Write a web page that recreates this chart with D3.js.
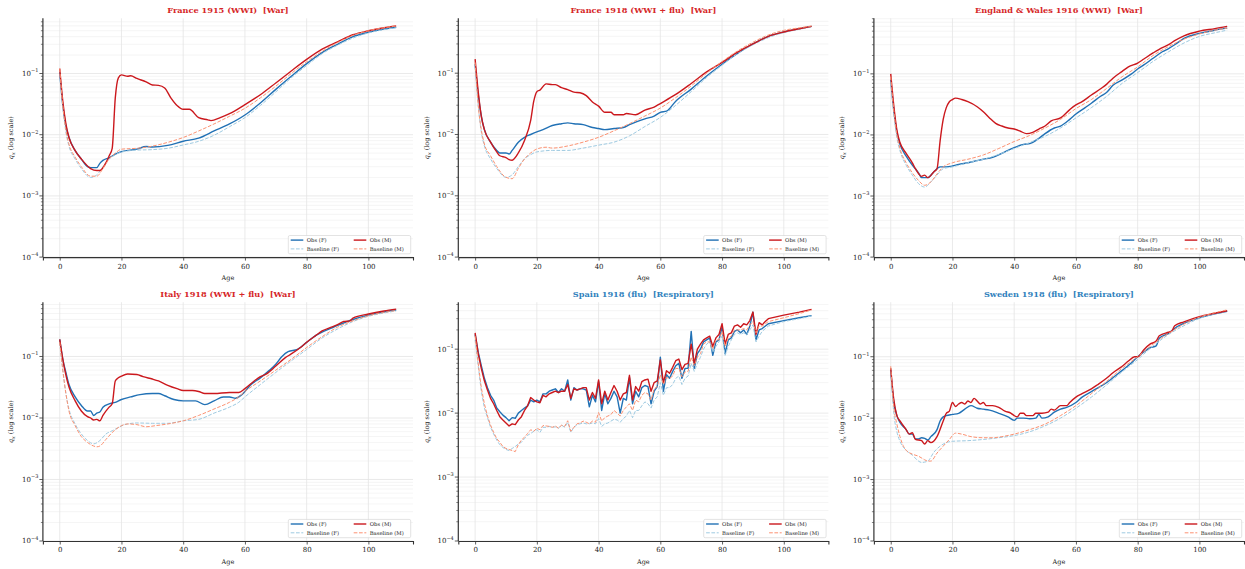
<!DOCTYPE html>
<html><head><meta charset="utf-8">
<script src="https://cdn.jsdelivr.net/npm/d3@7"></script>
<style>body{margin:0;background:#fff}svg{display:block}.ttl{white-space:pre}</style>
</head><body>
<script>
// ---------- DATA ----------
const titles = ["France 1915 (WWI)  [War]","France 1918 (WWI + flu)  [War]","England & Wales 1916 (WWI)  [War]","Italy 1918 (WWI + flu)  [War]","Spain 1918 (flu)  [Respiratory]","Sweden 1918 (flu)  [Respiratory]"];
const titleKinds = ["War","War","War","War","Respiratory","Respiratory"];
const legendLabels = ["Obs (F)","Baseline (F)","Obs (M)","Baseline (M)"];
const xTicks = [0,20,40,60,80,100];

// France 1915
const fr15ObsF = [[0,0.105],[1,0.03],[2,0.014],[3,0.009],[5,0.0055],[7,0.004],[9,0.003],[10,0.0029],[12,0.0029],[13,0.0034],[14,0.0038],[16,0.0042],[18,0.0048],[20,0.0053],[25,0.0058],[28,0.0064],[30,0.0063],[35,0.0067],[40,0.0078],[45,0.0088],[50,0.0115],[55,0.015],[60,0.021],[65,0.033],[70,0.055],[75,0.09],[80,0.145],[85,0.22],[90,0.3],[95,0.4],[100,0.47],[105,0.53],[109,0.57]];
const fr15BaseF = [[0,0.1],[1,0.028],[2,0.011],[3,0.0065],[5,0.004],[7,0.0028],[10,0.002],[12,0.0022],[14,0.003],[16,0.004],[18,0.0047],[20,0.0052],[25,0.0056],[30,0.0057],[35,0.006],[40,0.0068],[45,0.0078],[50,0.0098],[55,0.0135],[60,0.019],[65,0.03],[70,0.05],[75,0.085],[80,0.135],[85,0.21],[90,0.29],[95,0.38],[100,0.46],[105,0.52],[109,0.56]];
const fr15ObsM = [[0,0.12],[1,0.035],[2,0.015],[3,0.009],[5,0.0055],[7,0.004],[10,0.0028],[12,0.0026],[13,0.0026],[15,0.0035],[16,0.0045],[17,0.006],[18,0.04],[19,0.085],[20,0.095],[22,0.09],[23,0.092],[25,0.083],[28,0.073],[30,0.065],[32,0.064],[34,0.058],[36,0.04],[38,0.03],[40,0.026],[42,0.026],[45,0.019],[48,0.0175],[49,0.017],[52,0.019],[55,0.022],[60,0.031],[65,0.045],[70,0.07],[75,0.11],[80,0.17],[85,0.25],[90,0.33],[95,0.43],[100,0.5],[105,0.56],[109,0.6]];
const fr15BaseM = [[0,0.12],[1,0.03],[2,0.012],[3,0.007],[5,0.0043],[7,0.003],[10,0.0021],[12,0.0021],[14,0.0028],[16,0.004],[18,0.005],[20,0.0058],[25,0.006],[30,0.0065],[35,0.0075],[40,0.009],[45,0.0115],[50,0.015],[55,0.02],[60,0.027],[65,0.04],[70,0.062],[75,0.1],[80,0.155],[85,0.23],[90,0.32],[95,0.42],[100,0.5],[105,0.56],[109,0.6]];

// France 1918
const fr18ObsF = [[0,0.14],[1,0.045],[2,0.02],[3,0.012],[5,0.0075],[7,0.0055],[8,0.005],[10,0.005],[11,0.0048],[12,0.0055],[14,0.0075],[16,0.009],[18,0.01],[20,0.011],[22,0.012],[25,0.014],[28,0.015],[30,0.0155],[32,0.015],[35,0.0145],[38,0.013],[40,0.0125],[42,0.012],[45,0.0125],[48,0.013],[50,0.0145],[55,0.018],[58,0.02],[60,0.023],[62,0.024],[65,0.035],[70,0.055],[75,0.09],[80,0.14],[85,0.21],[90,0.3],[95,0.4],[100,0.47],[105,0.53],[109,0.58]];
const fr18BaseF = [[0,0.13],[1,0.03],[2,0.011],[3,0.0065],[5,0.004],[7,0.0028],[10,0.002],[12,0.0022],[14,0.003],[16,0.004],[18,0.0047],[20,0.0052],[25,0.0055],[30,0.0055],[35,0.006],[40,0.0067],[45,0.0075],[50,0.0095],[55,0.0135],[60,0.019],[65,0.03],[70,0.05],[75,0.085],[80,0.135],[85,0.21],[90,0.29],[95,0.38],[100,0.46],[105,0.52],[109,0.57]];
const fr18ObsM = [[0,0.17],[1,0.05],[2,0.02],[3,0.012],[5,0.0075],[7,0.0052],[8,0.0045],[10,0.0042],[11,0.0039],[12,0.0038],[14,0.005],[16,0.008],[18,0.017],[19,0.035],[20,0.05],[21,0.053],[23,0.067],[25,0.065],[26,0.065],[28,0.058],[30,0.054],[32,0.049],[34,0.048],[36,0.043],[38,0.034],[40,0.029],[42,0.023],[44,0.023],[45,0.021],[48,0.021],[49,0.022],[52,0.021],[55,0.025],[58,0.028],[60,0.032],[65,0.045],[70,0.068],[75,0.105],[80,0.15],[85,0.22],[90,0.3],[95,0.4],[100,0.47],[105,0.53],[109,0.58]];
const fr18BaseM = [[0,0.15],[1,0.03],[2,0.012],[3,0.007],[5,0.0045],[7,0.003],[10,0.002],[12,0.0019],[14,0.0028],[16,0.004],[18,0.005],[20,0.0058],[23,0.0062],[25,0.006],[30,0.0065],[35,0.0075],[40,0.009],[45,0.0115],[50,0.015],[55,0.02],[60,0.027],[65,0.04],[70,0.062],[75,0.1],[80,0.155],[85,0.23],[90,0.32],[95,0.42],[100,0.5],[105,0.55],[109,0.59]];

// England & Wales 1916
const ew16ObsF = [[0,0.08],[1,0.025],[2,0.011],[3,0.007],[5,0.0045],[7,0.0032],[9,0.0024],[10,0.002],[12,0.002],[14,0.0025],[16,0.003],[18,0.003],[20,0.0031],[22,0.0033],[25,0.0035],[28,0.0038],[30,0.004],[33,0.0043],[36,0.005],[40,0.0062],[43,0.007],[45,0.0072],[48,0.0088],[50,0.0105],[53,0.013],[55,0.014],[58,0.018],[60,0.022],[63,0.028],[65,0.033],[68,0.043],[70,0.05],[72,0.065],[75,0.08],[78,0.1],[80,0.12],[82,0.14],[85,0.18],[88,0.23],[90,0.26],[92,0.3],[95,0.38],[100,0.46],[105,0.52],[109,0.56]];
const ew16BaseF = [[0,0.075],[1,0.022],[2,0.009],[3,0.0055],[5,0.0032],[7,0.0022],[9,0.0016],[11,0.0014],[13,0.0017],[15,0.0022],[17,0.0028],[20,0.003],[25,0.0035],[30,0.004],[35,0.0048],[40,0.006],[45,0.0075],[50,0.0095],[55,0.013],[60,0.019],[65,0.028],[70,0.043],[75,0.07],[80,0.105],[85,0.16],[90,0.23],[95,0.32],[100,0.41],[105,0.47],[109,0.52]];
const ew16ObsM = [[0,0.1],[1,0.03],[2,0.012],[3,0.0075],[5,0.005],[7,0.0035],[8,0.0028],[10,0.0021],[11,0.0022],[12,0.002],[14,0.0025],[15,0.0028],[16,0.008],[17,0.018],[18,0.028],[19,0.035],[20,0.038],[21,0.04],[23,0.038],[25,0.035],[28,0.029],[30,0.024],[32,0.019],[34,0.0155],[36,0.014],[38,0.013],[40,0.0125],[42,0.0115],[44,0.0105],[46,0.011],[48,0.0125],[50,0.014],[52,0.017],[55,0.019],[58,0.026],[60,0.031],[62,0.035],[65,0.045],[68,0.057],[70,0.068],[72,0.085],[75,0.11],[77,0.13],[80,0.15],[82,0.175],[85,0.22],[88,0.27],[90,0.3],[92,0.35],[95,0.42],[100,0.5],[105,0.55],[109,0.6]];
const ew16BaseM = [[0,0.09],[1,0.025],[2,0.01],[3,0.006],[5,0.0035],[7,0.0024],[9,0.0018],[11,0.0015],[13,0.0017],[15,0.0023],[17,0.003],[20,0.0035],[25,0.004],[30,0.0047],[35,0.006],[40,0.0078],[45,0.0098],[50,0.013],[55,0.018],[60,0.027],[65,0.038],[70,0.058],[75,0.09],[80,0.13],[85,0.2],[90,0.28],[95,0.37],[100,0.45],[105,0.52],[109,0.56]];

// Italy 1918
const it18ObsF = [[0,0.19],[1,0.09],[2,0.055],[3,0.035],[5,0.022],[7,0.016],[9,0.013],[10,0.013],[11,0.011],[12,0.012],[13,0.0125],[14,0.015],[16,0.017],[18,0.018],[20,0.02],[23,0.022],[26,0.024],[30,0.025],[32,0.025],[34,0.023],[37,0.02],[40,0.019],[44,0.019],[47,0.0165],[50,0.019],[53,0.022],[55,0.022],[57,0.021],[59,0.024],[62,0.035],[65,0.045],[68,0.06],[70,0.075],[72,0.1],[74,0.12],[77,0.13],[80,0.17],[83,0.22],[85,0.25],[88,0.29],[90,0.32],[95,0.4],[100,0.47],[105,0.53],[109,0.57]];
const it18BaseF = [[0,0.17],[1,0.06],[2,0.025],[3,0.014],[5,0.008],[7,0.0055],[9,0.0043],[11,0.0038],[13,0.0043],[15,0.0055],[17,0.0062],[19,0.007],[21,0.0078],[25,0.0083],[30,0.0082],[35,0.0082],[40,0.009],[45,0.0095],[50,0.012],[55,0.015],[58,0.018],[60,0.022],[65,0.035],[70,0.055],[75,0.085],[80,0.13],[85,0.2],[90,0.28],[95,0.37],[100,0.45],[105,0.51],[109,0.55]];
const it18ObsM = [[0,0.19],[1,0.09],[2,0.05],[3,0.032],[5,0.019],[7,0.013],[9,0.0105],[10,0.01],[11,0.0093],[12,0.0095],[13,0.009],[14,0.011],[16,0.015],[17,0.017],[18,0.04],[19,0.045],[20,0.048],[22,0.052],[25,0.051],[27,0.047],[30,0.043],[32,0.04],[35,0.034],[38,0.03],[40,0.028],[43,0.028],[45,0.027],[47,0.025],[50,0.025],[55,0.026],[58,0.026],[60,0.03],[63,0.04],[65,0.047],[67,0.052],[70,0.07],[73,0.095],[75,0.11],[78,0.14],[80,0.17],[83,0.22],[85,0.26],[88,0.3],[90,0.33],[92,0.37],[94,0.38],[95,0.42],[100,0.49],[105,0.55],[109,0.59]];
const it18BaseM = [[0,0.17],[1,0.06],[2,0.025],[3,0.013],[5,0.0075],[7,0.005],[9,0.004],[11,0.0035],[12,0.0034],[13,0.0035],[15,0.0045],[17,0.0058],[20,0.0075],[22,0.008],[25,0.0078],[28,0.0072],[31,0.0075],[35,0.008],[40,0.009],[45,0.011],[50,0.014],[55,0.018],[58,0.022],[60,0.027],[65,0.04],[70,0.06],[75,0.09],[80,0.14],[85,0.21],[90,0.3],[95,0.38],[100,0.46],[105,0.52],[109,0.56]];

// Spain 1918
const es18ObsF = [[0,0.17],[1,0.09],[2,0.055],[3,0.035],[4,0.025],[5,0.019],[6,0.016],[7,0.012],[8,0.0105],[9,0.0093],[10,0.0085],[11,0.0076],[12,0.0085],[13,0.0083],[14,0.01],[15,0.011],[16,0.012],[17,0.013],[18,0.016],[19,0.015],[20,0.016],[21,0.015],[22,0.02],[23,0.02],[24,0.022],[25,0.023],[26,0.024],[27,0.021],[28,0.024],[29,0.022],[30,0.033],[31,0.016],[32,0.025],[33,0.023],[34,0.024],[35,0.024],[36,0.023],[37,0.0125],[38,0.019],[39,0.015],[40,0.031],[41,0.011],[42,0.02],[43,0.014],[44,0.017],[45,0.022],[46,0.018],[47,0.01],[48,0.017],[49,0.016],[50,0.036],[51,0.014],[52,0.022],[53,0.018],[54,0.025],[55,0.027],[56,0.026],[57,0.014],[58,0.022],[59,0.026],[60,0.075],[61,0.022],[62,0.04],[63,0.035],[64,0.045],[65,0.055],[66,0.06],[67,0.035],[68,0.05],[69,0.05],[70,0.19],[71,0.05],[72,0.085],[73,0.1],[74,0.13],[75,0.14],[76,0.15],[77,0.08],[78,0.13],[79,0.14],[80,0.22],[81,0.085],[82,0.14],[83,0.15],[84,0.19],[85,0.2],[86,0.18],[87,0.2],[88,0.17],[89,0.23],[90,0.38],[91,0.14],[92,0.2],[93,0.21],[95,0.25],[100,0.28],[105,0.31],[109,0.335]];
const es18BaseF = [[0,0.14],[1,0.055],[2,0.022],[3,0.012],[4,0.0085],[5,0.006],[6,0.0047],[7,0.0038],[8,0.0032],[9,0.0029],[10,0.0027],[11,0.0026],[12,0.0028],[13,0.003],[14,0.0033],[15,0.0035],[16,0.004],[17,0.0045],[18,0.0048],[19,0.0052],[20,0.0055],[21,0.005],[22,0.006],[23,0.006],[24,0.0062],[25,0.006],[26,0.0061],[27,0.0058],[28,0.0065],[29,0.006],[30,0.0072],[31,0.005],[32,0.006],[33,0.0066],[34,0.0068],[35,0.007],[36,0.0068],[37,0.0068],[38,0.007],[39,0.0068],[40,0.0082],[41,0.0062],[42,0.0068],[43,0.007],[44,0.0075],[45,0.008],[46,0.0078],[47,0.0072],[48,0.0082],[49,0.009],[50,0.011],[51,0.0085],[52,0.011],[53,0.011],[54,0.013],[55,0.015],[56,0.014],[57,0.012],[58,0.016],[59,0.018],[60,0.03],[61,0.019],[62,0.025],[63,0.025],[64,0.028],[65,0.035],[66,0.038],[67,0.028],[68,0.035],[69,0.038],[70,0.06],[71,0.045],[72,0.06],[73,0.075],[74,0.1],[75,0.12],[76,0.13],[77,0.09],[78,0.11],[79,0.13],[80,0.16],[81,0.08],[82,0.11],[83,0.14],[84,0.17],[85,0.18],[86,0.17],[87,0.18],[88,0.17],[89,0.2],[90,0.24],[91,0.13],[92,0.16],[93,0.19],[95,0.23],[100,0.27],[105,0.3],[109,0.33]];
const es18ObsM = [[0,0.18],[1,0.085],[2,0.05],[3,0.032],[4,0.023],[5,0.017],[6,0.014],[7,0.011],[8,0.0088],[9,0.0078],[10,0.007],[11,0.0063],[12,0.0068],[13,0.0066],[14,0.0078],[15,0.0088],[16,0.011],[17,0.013],[18,0.0175],[19,0.016],[20,0.015],[21,0.0145],[22,0.019],[23,0.018],[24,0.02],[25,0.021],[26,0.022],[27,0.021],[28,0.022],[29,0.022],[30,0.028],[31,0.017],[32,0.024],[33,0.023],[34,0.024],[35,0.025],[36,0.025],[37,0.016],[38,0.021],[39,0.017],[40,0.033],[41,0.014],[42,0.022],[43,0.016],[44,0.021],[45,0.027],[46,0.022],[47,0.016],[48,0.02],[49,0.021],[50,0.039],[51,0.016],[52,0.026],[53,0.022],[54,0.031],[55,0.033],[56,0.034],[57,0.022],[58,0.03],[59,0.032],[60,0.068],[61,0.03],[62,0.046],[63,0.042],[64,0.052],[65,0.066],[66,0.07],[67,0.048],[68,0.058],[69,0.06],[70,0.12],[71,0.06],[72,0.1],[73,0.12],[74,0.14],[75,0.15],[76,0.16],[77,0.11],[78,0.15],[79,0.17],[80,0.25],[81,0.12],[82,0.17],[83,0.18],[84,0.23],[85,0.24],[86,0.22],[87,0.25],[88,0.24],[89,0.28],[90,0.38],[91,0.17],[92,0.26],[93,0.24],[94,0.27],[95,0.3],[100,0.34],[105,0.38],[109,0.42]];
const es18BaseM = [[0,0.16],[1,0.06],[2,0.025],[3,0.014],[4,0.009],[5,0.0065],[6,0.005],[7,0.004],[8,0.0035],[9,0.003],[10,0.0028],[11,0.0027],[12,0.0026],[13,0.0025],[14,0.0032],[15,0.0038],[16,0.0042],[17,0.0048],[18,0.0055],[19,0.0052],[20,0.0058],[21,0.0055],[22,0.0064],[23,0.0063],[24,0.0062],[25,0.006],[26,0.0063],[27,0.0058],[28,0.0065],[29,0.0062],[30,0.0076],[31,0.0052],[32,0.006],[33,0.0068],[34,0.007],[35,0.0075],[36,0.0072],[37,0.0068],[38,0.0075],[39,0.0072],[40,0.0102],[41,0.0075],[42,0.0085],[43,0.009],[44,0.0095],[45,0.011],[46,0.01],[47,0.009],[48,0.011],[49,0.0125],[50,0.014],[51,0.011],[52,0.016],[53,0.015],[54,0.019],[55,0.021],[56,0.02],[57,0.016],[58,0.024],[59,0.026],[60,0.04],[61,0.028],[62,0.036],[63,0.035],[64,0.038],[65,0.05],[66,0.05],[67,0.037],[68,0.044],[69,0.045],[70,0.075],[71,0.055],[72,0.075],[73,0.085],[74,0.12],[75,0.13],[76,0.13],[77,0.1],[78,0.14],[79,0.14],[80,0.19],[81,0.11],[82,0.15],[83,0.16],[84,0.2],[85,0.2],[86,0.2],[87,0.21],[88,0.2],[89,0.24],[90,0.27],[91,0.18],[92,0.23],[93,0.23],[95,0.27],[100,0.31],[105,0.36],[109,0.41]];

// Sweden 1918
const se18ObsF = [[0,0.06],[1,0.018],[2,0.011],[3,0.0085],[5,0.0065],[6,0.0055],[7,0.0055],[8,0.0046],[9,0.0046],[10,0.0048],[11,0.0047],[12,0.0044],[13,0.005],[15,0.0065],[16,0.009],[17,0.0105],[18,0.011],[20,0.0115],[22,0.012],[24,0.014],[26,0.016],[28,0.0145],[30,0.014],[32,0.0135],[35,0.012],[38,0.0105],[40,0.0092],[41,0.01],[43,0.01],[45,0.0098],[47,0.01],[48,0.0115],[49,0.01],[51,0.0105],[53,0.0125],[55,0.014],[57,0.015],[60,0.018],[62,0.022],[65,0.027],[68,0.033],[70,0.038],[73,0.05],[75,0.06],[78,0.08],[80,0.1],[82,0.12],[84,0.14],[86,0.15],[87,0.2],[90,0.24],[92,0.29],[95,0.35],[100,0.43],[105,0.5],[109,0.55]];
const se18BaseF = [[0,0.065],[1,0.012],[2,0.006],[3,0.0042],[5,0.003],[7,0.0025],[9,0.002],[10,0.0019],[12,0.002],[14,0.0028],[16,0.0035],[18,0.004],[20,0.0042],[25,0.0043],[30,0.0045],[35,0.0048],[40,0.0052],[45,0.006],[50,0.0075],[55,0.01],[60,0.0145],[65,0.022],[70,0.035],[75,0.057],[80,0.09],[85,0.15],[90,0.23],[95,0.32],[100,0.42],[105,0.5],[109,0.55]];
const se18ObsM = [[0,0.065],[1,0.02],[2,0.011],[3,0.009],[5,0.0065],[6,0.0055],[7,0.0058],[8,0.0045],[10,0.0043],[11,0.0038],[12,0.0043],[13,0.004],[15,0.005],[17,0.009],[18,0.012],[19,0.013],[20,0.018],[21,0.0155],[22,0.017],[23,0.018],[24,0.017],[25,0.019],[26,0.018],[27,0.021],[28,0.019],[29,0.017],[30,0.018],[31,0.016],[33,0.016],[35,0.015],[37,0.013],[39,0.012],[40,0.011],[41,0.0105],[42,0.012],[43,0.012],[44,0.011],[46,0.011],[47,0.012],[49,0.012],[51,0.0125],[52,0.014],[53,0.0135],[55,0.016],[57,0.016],[58,0.018],[60,0.022],[62,0.025],[65,0.03],[67,0.035],[70,0.045],[72,0.055],[75,0.07],[77,0.085],[79,0.1],[80,0.1],[82,0.13],[84,0.16],[86,0.18],[87,0.22],[90,0.25],[91,0.26],[92,0.32],[95,0.37],[100,0.45],[105,0.51],[109,0.56]];
const se18BaseM = [[0,0.07],[1,0.015],[2,0.008],[3,0.005],[4,0.0036],[5,0.003],[7,0.0026],[9,0.0024],[11,0.0021],[12,0.002],[13,0.002],[15,0.0027],[17,0.0035],[19,0.0045],[21,0.0057],[23,0.0055],[26,0.005],[30,0.0048],[33,0.0048],[36,0.005],[40,0.0055],[45,0.0065],[50,0.008],[55,0.011],[60,0.016],[65,0.025],[70,0.04],[75,0.065],[80,0.1],[85,0.16],[90,0.24],[95,0.34],[100,0.44],[105,0.52],[109,0.58]];

const panelSeries = [
  [fr15ObsF, fr15BaseF, fr15ObsM, fr15BaseM],
  [fr18ObsF, fr18BaseF, fr18ObsM, fr18BaseM],
  [ew16ObsF, ew16BaseF, ew16ObsM, ew16BaseM],
  [it18ObsF, it18BaseF, it18ObsM, it18BaseM],
  [es18ObsF, es18BaseF, es18ObsM, es18BaseM],
  [se18ObsF, se18BaseF, se18ObsM, se18BaseM]
];
const jagged = [false,false,false,false,true,false];

// ---------- STYLE / LAYOUT ----------
const W = 1245, H = 569;
const colLeft = [42.9, 458.3, 873.9];
const rowTop = [18.3, 302.2];
const pw = 370.1, ph = 238.8;
const seriesStyle = [
  {color:"#2171b5", width:1.4, dash:null},
  {color:"#9ecae1", width:1.0, dash:"3.7,1.6"},
  {color:"#cb181d", width:1.4, dash:null},
  {color:"#fc9272", width:1.0, dash:"3.7,1.6"}
];
const kindColor = {War:"#d62728", Respiratory:"#3182bd"};
const font = "'DejaVu Serif', serif";

const svg = d3.select("body").append("svg").attr("width", W).attr("height", H)
  .style("font-family", font);

panelSeries.forEach((series, i) => {
  const col = i % 3, row = Math.floor(i / 3);
  const g = svg.append("g").attr("transform", `translate(${colLeft[col]},${rowTop[row]})`);

  const all = series.flat().map(d => d[1]);
  const lmax = Math.log10(d3.max(all)), lmin = Math.log10(d3.min(all));
  const top = Math.pow(10, lmax + 0.05 * (lmax - lmin));

  const x = d3.scaleLinear().domain([-5.45, 114.45]).range([0, pw]);
  const y = d3.scaleLog().domain([1e-4, top]).range([ph, 0]);

  // grid
  const majors = [], minors = [];
  for (let e = -4; e <= 0; e++) {
    const b = Math.pow(10, e);
    if (b <= top) majors.push(b);
    for (let k = 2; k <= 9; k++) { const v = k * b; if (v <= top) minors.push(v); }
  }
  g.append("g").selectAll("line").data(minors).join("line")
    .attr("x1", 0).attr("x2", pw).attr("y1", d => y(d)).attr("y2", d => y(d))
    .attr("stroke", "#eeeeee").attr("stroke-width", 0.6);
  g.append("g").selectAll("line").data(majors).join("line")
    .attr("x1", 0).attr("x2", pw).attr("y1", d => y(d)).attr("y2", d => y(d))
    .attr("stroke", "#e4e4e4").attr("stroke-width", 0.8);
  g.append("g").selectAll("line").data(xTicks).join("line")
    .attr("x1", d => x(d)).attr("x2", d => x(d)).attr("y1", 0).attr("y2", ph)
    .attr("stroke", "#e4e4e4").attr("stroke-width", 0.8);

  // lines
  const line = d3.line().x(d => x(d[0])).y(d => y(d[1]))
    .curve(jagged[i] ? d3.curveLinear : d3.curveMonotoneX);
  series.forEach((s, j) => {
    const st = seriesStyle[j];
    g.append("path").datum(s).attr("d", line).attr("fill", "none")
      .attr("stroke", st.color).attr("stroke-width", st.width)
      .attr("stroke-dasharray", st.dash).attr("stroke-linejoin", "round");
  });

  // axes
  const xAxis = d3.axisBottom(x).tickValues(xTicks).tickSize(3.5).tickPadding(3);
  const xg = g.append("g").attr("transform", `translate(0,${ph})`).call(xAxis);
  xg.select(".domain").attr("stroke", "#333").attr("stroke-width", 1.1);
  xg.selectAll(".tick line").attr("stroke", "#333").attr("stroke-width", 0.8);
  xg.selectAll("text").attr("font-family", font).attr("font-size", 7).attr("fill", "#222");

  const yg = g.append("g");
  yg.append("line").attr("x1", 0).attr("x2", 0).attr("y1", 0).attr("y2", ph)
    .attr("stroke", "#333").attr("stroke-width", 1.2);
  yg.selectAll(".maj").data(majors).join("line").attr("class", "maj")
    .attr("x1", -3.5).attr("x2", 0).attr("y1", d => y(d)).attr("y2", d => y(d))
    .attr("stroke", "#333").attr("stroke-width", 0.8);
  yg.selectAll(".min").data(minors).join("line").attr("class", "min")
    .attr("x1", -2).attr("x2", 0).attr("y1", d => y(d)).attr("y2", d => y(d))
    .attr("stroke", "#333").attr("stroke-width", 0.6);
  const yl = yg.selectAll(".lab").data(majors).join("text").attr("class", "lab")
    .attr("x", -4.5).attr("y", d => y(d) + 2.5).attr("text-anchor", "end")
    .attr("font-size", 7).attr("fill", "#222");
  yl.append("tspan").text("10");
  yl.append("tspan").attr("dy", -3.5).attr("font-size", 5).text(d => "\u2212" + Math.round(-Math.log10(d)));

  // axis labels
  g.append("text").attr("x", pw / 2).attr("y", ph + 23).attr("text-anchor", "middle")
    .attr("font-size", 6.5).attr("fill", "#222").text("Age");
  const ylab = g.append("text").attr("transform", `translate(-29.5,${ph / 2}) rotate(-90)`)
    .attr("text-anchor", "middle").attr("font-size", 6.5).attr("fill", "#222");
  ylab.append("tspan").attr("font-style", "italic").text("q");
  ylab.append("tspan").attr("font-style", "italic").attr("font-size", 4.8).attr("dy", 1.8).text("x");
  ylab.append("tspan").attr("dy", -1.8).text(" (log scale)");

  // title
  g.append("text").attr("class", "ttl").attr("xml:space", "preserve")
    .attr("x", pw / 2).attr("y", -5).attr("text-anchor", "middle")
    .attr("font-size", 8.2).attr("font-weight", "bold").attr("fill", kindColor[titleKinds[i]])
    .text(titles[i]);

  // legend
  const lw = 122.4, lh = 18.3;
  const lg = g.append("g").attr("transform", `translate(${pw - 2.3 - lw},${ph - 3.3 - lh})`);
  lg.append("rect").attr("width", lw).attr("height", lh).attr("rx", 1.5)
    .attr("fill", "#fff").attr("fill-opacity", 0.85).attr("stroke", "#d0d0d0").attr("stroke-width", 0.6);
  const colX = [2.4, 65.4];
  legendLabels.forEach((lab, j) => {
    const cx = colX[Math.floor(j / 2)], cy = 4.6 + (j % 2) * 8.8;
    const st = seriesStyle[j];
    lg.append("line").attr("x1", cx).attr("x2", cx + 12.6).attr("y1", cy).attr("y2", cy)
      .attr("stroke", st.color).attr("stroke-width", st.width).attr("stroke-dasharray", st.dash);
    lg.append("text").attr("x", cx + 16).attr("y", cy + 1.8).attr("font-size", 5.3)
      .attr("fill", "#222").text(lab);
  });
});
</script>
</body></html>
